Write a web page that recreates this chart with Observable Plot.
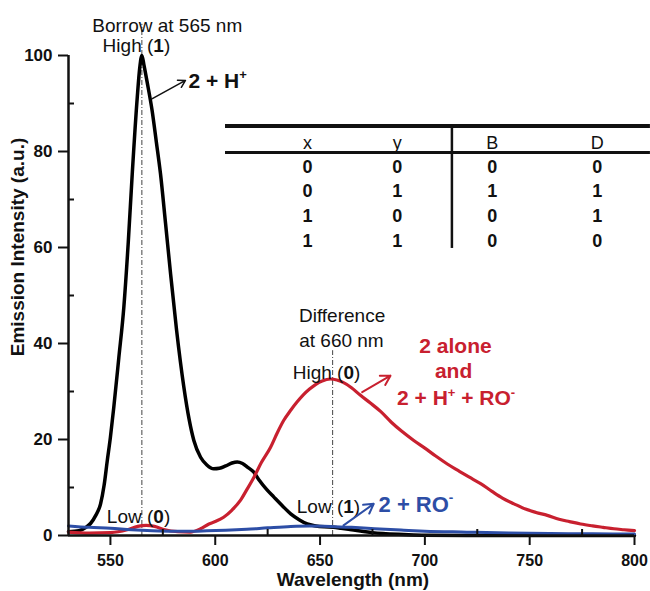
<!DOCTYPE html>
<html><head><meta charset="utf-8">
<script src="https://cdn.jsdelivr.net/npm/d3@7"></script>
<script src="https://cdn.jsdelivr.net/npm/@observablehq/plot@0.6"></script>
<style>body{margin:0;background:#fff} #chart svg{overflow:visible}</style>
</head><body><div id="chart"></div>
<script>
// ---- data ----
const blackNm = [530,535,538,540.5,543,545.3,547,548.5,550,551.6,554,556.4,558.5,560.4,562.8,564,565,566,567.5,569.9,571.9,573.9,576.3,578.7,581.5,585,587.5,589.8,593,596,599.3,602,605,608,610.5,613,615.5,618.4,621,624.5,628,632,636,640,643.9,648,652,656.5,660,665,670,675,680,690,700,720,760,800];
const blackI  = [0.8,1.0,1.6,2.5,4.2,6.6,10.5,15.6,20.5,26.7,37,47.6,61,75.3,91.3,97.5,100,98,94.5,88.5,82,75.3,65,54.5,43,31,24.3,19.8,16.3,14.7,13.9,14.0,14.5,15.1,15.3,15.0,14.2,13.2,11.5,9.6,8.0,6.2,4.5,3.3,2.4,2.0,1.8,1.7,1.5,1.2,0.9,0.6,0.4,0.2,0.05,0,0,0];

const redNm = [530,540,550,558,563,567,571,576,582,588,593,597,600,604,608,612,615,618.4,622,626.4,629.5,632.7,636,639,642,645,648,651,655,658,661,665,669,674,679,684,689,694.7,700,705,710.7,716,721,726.6,732,737,742.5,748,753,758.4,764,769,774.3,780,785,790.2,795,800];
const redI  = [0.7,0.5,0.6,1.2,1.9,2.1,1.9,1.2,0.8,0.7,1.4,2.4,2.9,3.8,5.3,7.3,9.5,12.1,15.2,18.4,21.3,24,26.1,27.8,29.3,30.5,31.5,32.2,32.6,32.4,31.9,30.8,29.3,27.6,25.8,23.6,21.7,19.8,18.2,16.6,14.9,13.5,12.2,10.8,9.2,7.8,6.6,5.5,4.8,4.2,3.4,2.9,2.4,2.0,1.7,1.4,1.2,1.0];

const blueNm = [530,540,550,560,570,580,590,596,605,615,625,636,645,655,665,676,690,700,720,740,760,780,800];
const blueI  = [2.0,1.7,1.5,1.2,1.0,0.9,0.9,1.0,1.1,1.3,1.6,1.9,2.0,1.9,1.7,1.4,1.1,0.9,0.7,0.5,0.4,0.35,0.3];

const xMajor = [550,600,650,700,750,800];
const xMinor = [575,625,675,725,775];
const yMajor = [0,20,40,60,80,100];
const yMinor = [10,30,50,70,90];

const tableHeaders = ["x","y","B","D"];
const tableRows = [[0,0,0,0],[0,1,1,1],[1,0,0,1],[1,1,0,0]];

// ---- drawing ----
const font = "'Liberation Sans', Arial, Helvetica, sans-serif";
const RED = "#c8202f", BLUE = "#2d4ea6";

function note(t, x, y, o = {}) {
  return Plot.text([{x, y, t}], {x: "x", y: "y", text: "t", lineAnchor: "bottom",
    fontSize: 19, fill: "#111", textAnchor: "middle", ...o});
}
function arrow(x1, y1, x2, y2, o = {}) {
  return Plot.arrow([{x1, y1, x2, y2}], {x1: "x1", y1: "y1", x2: "x2", y2: "y2",
    stroke: "#111", strokeWidth: 1.5, headLength: 8, ...o});
}

const colX = [644.0, 686.8, 732.1, 782.2];
const headerY = 80.6;
const rowY = [75.5, 70.5, 65.3, 60.1];

const chart = Plot.plot({
  width: 650, height: 591,
  marginLeft: 68, marginRight: 16, marginTop: 55, marginBottom: 56,
  x: {domain: [530, 800]},
  y: {domain: [0, 100]},
  style: {fontFamily: font, background: "white", color: "#111"},
  marks: [
    // dashed guide lines
    Plot.ruleX([565], {y1: 0, y2: 106.5, stroke: "#444", strokeWidth: 1, strokeDasharray: "5,2,1,2"}),
    Plot.ruleX([656], {y1: 0, y2: 38.5, stroke: "#444", strokeWidth: 1, strokeDasharray: "5,2,1,2"}),
    // spectra
    Plot.line(d3.zip(blackNm, blackI), {stroke: "#000", strokeWidth: 3.5, curve: "monotone-x"}),
    Plot.line(d3.zip(redNm, redI), {stroke: RED, strokeWidth: 3.2, curve: "monotone-x"}),
    Plot.line(d3.zip(blueNm, blueI), {stroke: BLUE, strokeWidth: 3, curve: "monotone-x"}),
    // axes
    Plot.axisX({ticks: xMajor, tickSize: 10, tickPadding: 9, fontSize: 16, fontWeight: "bold", strokeWidth: 2, label: null}),
    Plot.axisX({ticks: xMinor, tickSize: -6, text: null, strokeWidth: 2, label: null}),
    Plot.axisY({ticks: yMajor, tickSize: 10, tickPadding: 6, fontSize: 17, fontWeight: "bold", strokeWidth: 2, label: null}),
    Plot.axisY({ticks: yMinor, tickSize: -6, text: null, strokeWidth: 2, label: null}),
    Plot.ruleY([0], {x1: 530, x2: 800, strokeWidth: 2.5}),
    Plot.ruleX([530], {y1: 0, y2: 100, strokeWidth: 2.5}),
    // axis titles
    note("Wavelength (nm)", 665.7, -10.5, {fontWeight: "bold"}),
    Plot.text([{x: 506.1, y: 60.1, t: "Emission Intensity (a.u.)"}], {x: "x", y: "y", text: "t", rotate: -90,
      fontSize: 19, fontWeight: "bold", fill: "#111"}),
    // table
    Plot.ruleY([85.3], {x1: 604.9, x2: 807.6, strokeWidth: 4}),
    Plot.ruleY([79.8], {x1: 604.9, x2: 807.6, strokeWidth: 3}),
    Plot.ruleX([712.9], {y1: 85.3, y2: 59.8, strokeWidth: 2.5}),
    Plot.text(tableHeaders.map((h, i) => ({x: colX[i], y: headerY, t: h})),
      {x: "x", y: "y", text: "t", lineAnchor: "bottom", fontSize: 18, fill: "#111"}),
    Plot.text(tableRows.flatMap((r, j) => r.map((v, i) => ({x: colX[i], y: rowY[j], t: String(v)}))),
      {x: "x", y: "y", text: "t", lineAnchor: "bottom", fontSize: 18, fontWeight: "bold", fill: "#111"}),
    // annotations
    note("Borrow at 565 nm", 577.1, 105.0),
    note("High (*1*)", 562.4, 100.8),
    note("2 + H^+^", 587.2, 93.3, {textAnchor: "start", fontWeight: "bold", fontSize: 21}),
    arrow(570.0, 91.0, 585.8, 94.8),
    note("Difference", 660.5, 44.4),
    note("at 660 nm", 660.2, 39.3),
    note("High (*0*)", 653.1, 32.7),
    note("2 alone", 714.6, 38.1, {fill: RED, fontWeight: "bold", fontSize: 21}),
    note("and", 713.7, 32.9, {fill: RED, fontWeight: "bold", fontSize: 21}),
    note("2 + H^+^ + RO^-^", 714.9, 27.1, {fill: RED, fontWeight: "bold", fontSize: 21}),
    arrow(670.1, 29.85, 683.6, 33.3, {stroke: RED, strokeWidth: 2}),
    note("Low (*0*)", 563.4, 2.6),
    note("Low (*1*)", 654.0, 4.6),
    note("2 + RO^-^", 677.9, 5.0, {textAnchor: "start", fill: BLUE, fontWeight: "bold", fontSize: 22}),
    arrow(661.2, 2.1, 675.6, 6.6, {stroke: BLUE, strokeWidth: 2})
  ]
});

document.getElementById("chart").appendChild(chart);

// rich text: *bold* and ^superscript^
d3.select(chart).selectAll("text").each(function () {
  const t = this.textContent;
  if (!/[*^]/.test(t)) return;
  const fs = parseFloat(getComputedStyle(this).fontSize) || 18;
  const parts = t.match(/\*[^*]+\*|\^[^^]+\^|[^*^]+/g);
  this.textContent = "";
  let raised = false;
  for (const p of parts) {
    const ts = document.createElementNS("http://www.w3.org/2000/svg", "tspan");
    if (p[0] === "^") {
      ts.textContent = p.slice(1, -1);
      ts.setAttribute("font-size", (0.62 * fs).toFixed(1));
      ts.setAttribute("dy", (-0.42 * fs).toFixed(1));
      raised = true;
    } else {
      ts.textContent = p[0] === "*" ? p.slice(1, -1) : p;
      if (p[0] === "*") ts.setAttribute("font-weight", "bold");
      if (raised) { ts.setAttribute("dy", (0.42 * fs).toFixed(1)); raised = false; }
    }
    this.appendChild(ts);
  }
});
</script>
</body></html>
